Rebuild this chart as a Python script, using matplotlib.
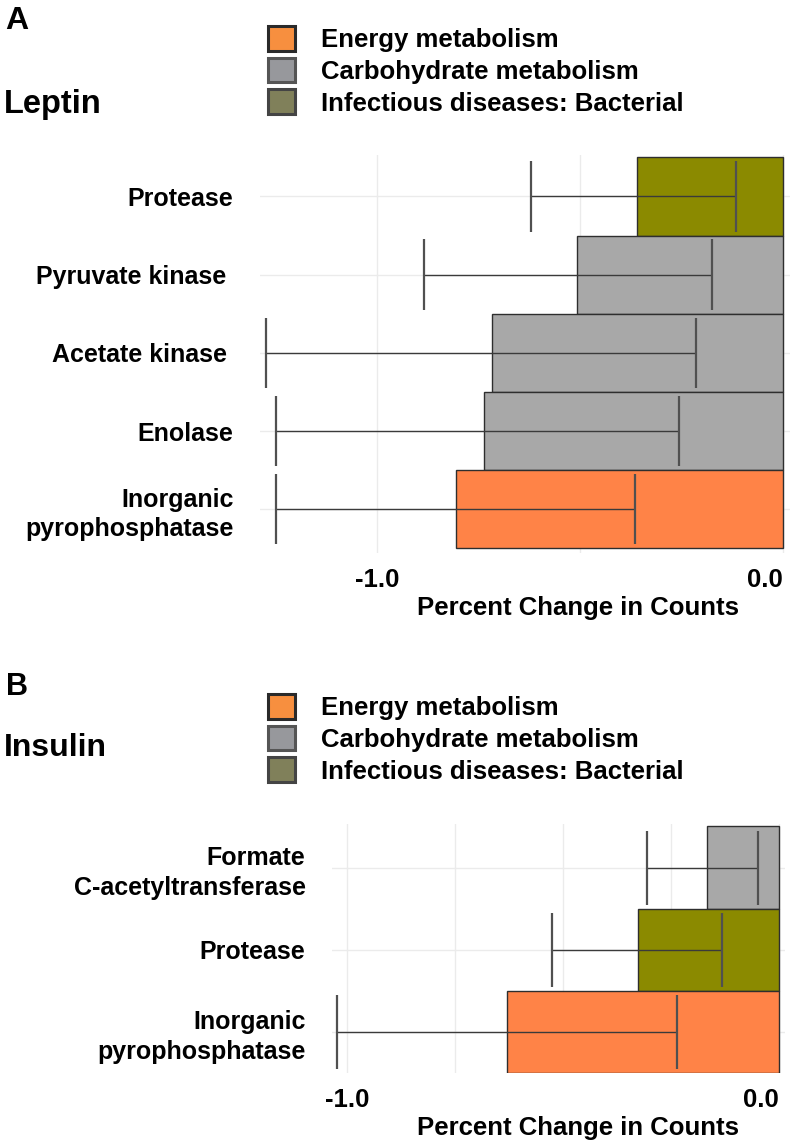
import matplotlib.pyplot as plt
from matplotlib.patches import Patch

plt.rcParams['font.family'] = ['Liberation Sans', 'DejaVu Sans']
plt.rcParams['font.weight'] = 'bold'

# 分类与颜色
categories = ['Energy metabolism', 'Carbohydrate metabolism', 'Infectious diseases: Bacterial']
bar_colors = ['#FF8347', '#A8A8A8', '#8B8A00']
key_colors = ['#F78F3F', '#97989C', '#80805A']
key_edges = ['#2a2a2a', '#555555', '#444444']

# A: Leptin
leptin_labels = ['Protease', 'Pyruvate kinase ', 'Acetate kinase ', 'Enolase', 'Inorganic\npyrophosphatase']
leptin_values = [-0.36, -0.507, -0.717, -0.736, -0.805]
leptin_err_lo = [-0.62, -0.885, -1.274, -1.249, -1.249]
leptin_err_hi = [-0.116, -0.176, -0.215, -0.256, -0.365]
leptin_group = [2, 1, 1, 1, 0]

# B: Insulin
insulin_labels = ['Formate\nC-acetyltransferase', 'Protease', 'Inorganic\npyrophosphatase']
insulin_values = [-0.167, -0.326, -0.63]
insulin_err_lo = [-0.306, -0.526, -1.023]
insulin_err_hi = [-0.049, -0.133, -0.236]
insulin_group = [1, 2, 0]

W, H = 790, 1142
fig = plt.figure(figsize=(W / 100, H / 100), dpi=100)
FS = 18.5


def fx(px):
    return px / W


def fy(py):
    return 1 - py / H


def panel(rect, labels, values, lo, hi, group, xlim, ticks, ticklabels, ylim):
    ax = fig.add_axes(rect)
    y = list(range(len(labels)))
    ax.barh(y, values, height=1.0, color=[bar_colors[g] for g in group],
            edgecolor='#2e2e2e', linewidth=1.0, zorder=2)
    ax.hlines(y, lo, hi, color='#3a3a3a', linewidth=1.0, zorder=3)
    ax.vlines(lo, [v - 0.45 for v in y], [v + 0.45 for v in y], color='#505050', linewidth=1.6, zorder=3)
    ax.vlines(hi, [v - 0.45 for v in y], [v + 0.45 for v in y], color='#505050', linewidth=1.6, zorder=3)
    ax.set_xlim(*xlim)
    ax.set_ylim(*ylim)
    ax.set_yticks(y)
    ax.set_yticklabels(labels, fontsize=18, fontweight='bold', ha='right',
                       multialignment='right', linespacing=1.3)
    ax.set_xticks(ticks)
    tl = ax.set_xticklabels(ticklabels, fontsize=FS, fontweight='bold')
    tl[-1].set_ha('right')
    ax.tick_params(axis='y', length=0, pad=19)
    ax.tick_params(axis='x', length=0, pad=11)
    ax.grid(True, color='#EBEBEB', linewidth=1.0, zorder=0)
    ax.set_axisbelow(True)
    for s in ax.spines.values():
        s.set_visible(False)
    ax.set_xlabel('Percent Change in Counts', fontsize=FS, fontweight='bold')
    return ax


axA = panel([fx(260), fy(553), fx(790) - fx(260), fy(155) - fy(553)],
            leptin_labels, leptin_values, leptin_err_lo, leptin_err_hi, leptin_group,
            (-1.288, 0.017), [-1.0, -0.5, 0.0], ['-1.0', '', '0.0'], (4.56, -0.53))
axA.xaxis.set_label_coords(fx(578), fy(596), transform=fig.transFigure)

axB = panel([fx(332), fy(1073), fx(785) - fx(332), fy(824) - fy(1073)],
            insulin_labels, insulin_values, insulin_err_lo, insulin_err_hi, insulin_group,
            (-1.035, 0.014), [-1.0, -0.75, -0.5, -0.25, 0.0], ['-1.0', '', '', '', '0.0'], (2.5, -0.53))
axB.xaxis.set_label_coords(fx(578), fy(1116), transform=fig.transFigure)

# 图例
handles = [Patch(facecolor=key_colors[i], edgecolor=key_edges[i], linewidth=2.2) for i in range(3)]
for top in (26, 694):
    fig.legend(handles, categories, loc='upper left', bbox_to_anchor=(fx(268), fy(top)),
               frameon=False, prop={'size': FS, 'weight': 'bold'}, handlelength=1.05,
               handleheight=1.1, labelspacing=0.22, handletextpad=1.0, borderpad=0, borderaxespad=0)

# 标题
fig.text(fx(5), fy(29), 'A', fontsize=23, fontweight='bold', va='baseline')
fig.text(fx(4), fy(113), 'Leptin', fontsize=23.5, fontweight='bold', va='baseline')
fig.text(fx(6), fy(695), 'B', fontsize=22, fontweight='bold', va='baseline')
fig.text(fx(4), fy(756), 'Insulin', fontsize=23, fontweight='bold', va='baseline')

fig.savefig('out.png', dpi=100)
